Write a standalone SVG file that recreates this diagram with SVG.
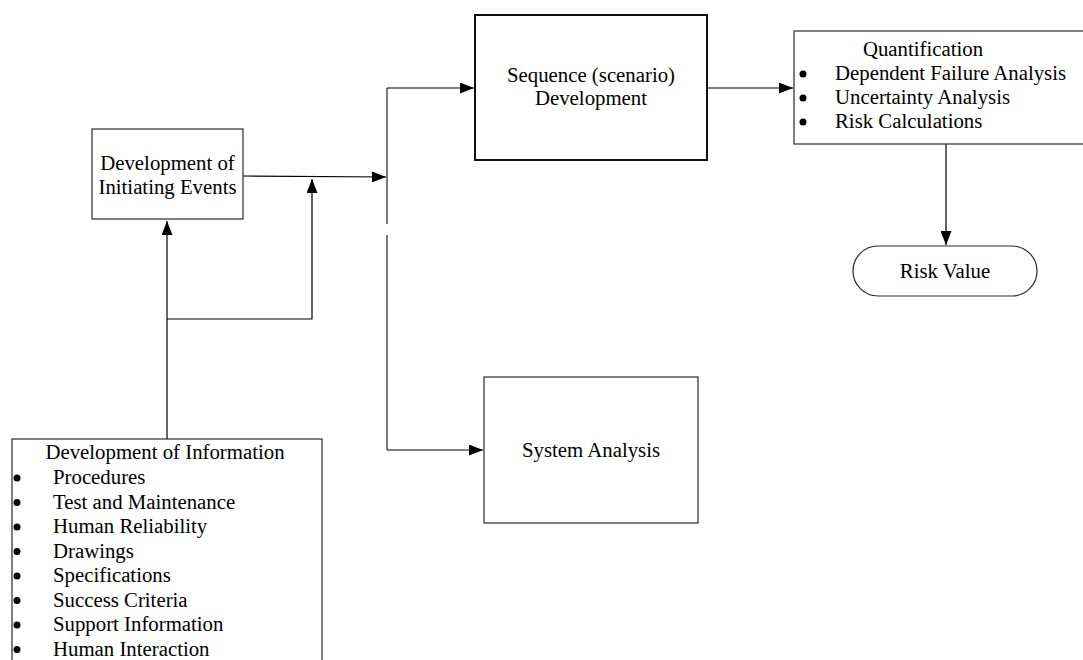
<svg xmlns="http://www.w3.org/2000/svg" width="1083" height="660" viewBox="0 0 1083 660">
  <style>
    .box { fill: #ffffff; stroke: #2a2a2a; stroke-width: 1.2; }
    .thick { stroke: #111111; stroke-width: 2; }
    .lbl { font-family: "Liberation Serif", "Times New Roman", serif; font-size: 20.8px; fill: #000000; }
    .mid { text-anchor: middle; }
    .wire { fill: none; stroke: #000000; stroke-width: 1.2; }
    .bus { fill: none; stroke: #7a7a7a; stroke-width: 2; }
    .dot { fill: #000000; }
  </style>
  <defs>
    <marker id="arrow" markerWidth="14" markerHeight="11" refX="14" refY="5.5" orient="auto" markerUnits="userSpaceOnUse">
      <path d="M0,0 L14,5.5 L0,11 Z" fill="#000000"/>
    </marker>
  </defs>
  <rect width="1083" height="660" fill="#ffffff"/>

  <!-- connectors -->
  <g id="connectors">
    <!-- vertical distribution bus (broken) -->
    <line class="bus" x1="387" y1="88" x2="387" y2="224"/>
    <line class="bus" x1="387" y1="235" x2="387" y2="450"/>
    <!-- initiating events to bus -->
    <line class="wire" x1="243" y1="176" x2="386" y2="177" marker-end="url(#arrow)"/>
    <!-- bus to sequence development -->
    <polyline class="wire" points="387,88 474,88" marker-end="url(#arrow)"/>
    <!-- bus to system analysis -->
    <polyline class="wire" points="387,450 483,450" marker-end="url(#arrow)"/>
    <!-- information up to initiating events -->
    <line class="wire" x1="167" y1="439" x2="167" y2="221" marker-end="url(#arrow)"/>
    <!-- information branch to initiating line -->
    <polyline class="wire" points="167,319 312,319 312,179" marker-end="url(#arrow)"/>
    <!-- sequence to quantification -->
    <line class="wire" x1="707" y1="88" x2="793" y2="88" marker-end="url(#arrow)"/>
    <!-- quantification to risk value -->
    <line class="wire" x1="946" y1="144" x2="946" y2="245" marker-end="url(#arrow)"/>
  </g>

  <!-- nodes -->
  <g id="initiating-events">
    <rect class="box" x="92" y="129" width="151" height="90"/>
    <text class="lbl mid" x="167.5" y="170">Development of</text>
    <text class="lbl mid" x="167.5" y="194">Initiating Events</text>
  </g>

  <g id="sequence-development">
    <rect class="box thick" x="475" y="15" width="232" height="145"/>
    <text class="lbl mid" x="591" y="82">Sequence (scenario)</text>
    <text class="lbl mid" x="591" y="105">Development</text>
  </g>

  <g id="quantification">
    <rect class="box" x="794" y="31" width="300" height="113"/>
    <text class="lbl mid" x="923" y="56">Quantification</text>
    <circle class="dot" cx="803" cy="74" r="3.5"/>
    <text class="lbl" x="835" y="80">Dependent Failure Analysis</text>
    <circle class="dot" cx="803" cy="98" r="3.5"/>
    <text class="lbl" x="835" y="104">Uncertainty Analysis</text>
    <circle class="dot" cx="803" cy="122" r="3.5"/>
    <text class="lbl" x="835" y="128">Risk Calculations</text>
  </g>

  <g id="risk-value">
    <rect class="box" x="853" y="246" width="184" height="50" rx="25" ry="25"/>
    <text class="lbl mid" x="945" y="278">Risk Value</text>
  </g>

  <g id="system-analysis">
    <rect class="box" x="484" y="377" width="214" height="146"/>
    <text class="lbl mid" x="591" y="457">System Analysis</text>
  </g>

  <g id="information">
    <rect class="box" x="12" y="439" width="310" height="240"/>
    <text class="lbl mid" x="165" y="459">Development of Information</text>
    <circle class="dot" cx="17" cy="478" r="3.5"/>
    <text class="lbl" x="53" y="484">Procedures</text>
    <circle class="dot" cx="17" cy="502.5" r="3.5"/>
    <text class="lbl" x="53" y="508.5">Test and Maintenance</text>
    <circle class="dot" cx="17" cy="527" r="3.5"/>
    <text class="lbl" x="53" y="533">Human Reliability</text>
    <circle class="dot" cx="17" cy="551.5" r="3.5"/>
    <text class="lbl" x="53" y="557.5">Drawings</text>
    <circle class="dot" cx="17" cy="576" r="3.5"/>
    <text class="lbl" x="53" y="582">Specifications</text>
    <circle class="dot" cx="17" cy="600.5" r="3.5"/>
    <text class="lbl" x="53" y="606.5">Success Criteria</text>
    <circle class="dot" cx="17" cy="625" r="3.5"/>
    <text class="lbl" x="53" y="631">Support Information</text>
    <circle class="dot" cx="17" cy="649.5" r="3.5"/>
    <text class="lbl" x="53" y="655.5">Human Interaction</text>
  </g>
</svg>
